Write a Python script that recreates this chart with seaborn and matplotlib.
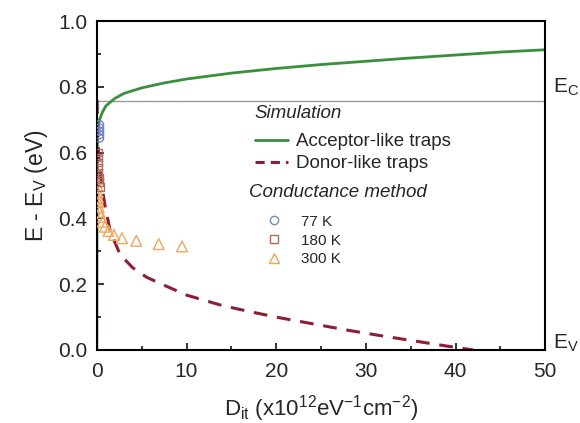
import matplotlib
matplotlib.use("Agg")
import matplotlib.pyplot as plt
import seaborn as sns
from matplotlib.lines import Line2D

# ---- data ----
acc_x = [0, 0.01, 0.05, 0.15, 0.3, 0.6, 1, 2, 3, 5, 7.5, 10, 15, 20, 25, 30, 35, 40, 45, 50]
acc_y = [0, 0.45, 0.62, 0.675, 0.70, 0.722, 0.742, 0.765, 0.78, 0.797, 0.812, 0.824, 0.842,
         0.856, 0.868, 0.878, 0.888, 0.897, 0.906, 0.913]
don_x = [0.02, 0.1, 0.25, 0.55, 0.9, 1.5, 2.6, 4, 5.5, 7, 10, 14, 17, 20, 24, 28, 32, 36, 39, 42]
don_y = [0.76, 0.65, 0.57, 0.50, 0.44, 0.36, 0.29, 0.25, 0.222, 0.203, 0.167, 0.135, 0.117,
         0.10, 0.08, 0.06, 0.042, 0.025, 0.012, 0.0]
k77_x = [0.3, 0.3, 0.3, 0.3, 0.3]
k77_y = [0.645, 0.655, 0.665, 0.675, 0.685]
k180_x = [0.2, 0.2, 0.2, 0.2, 0.2, 0.25, 0.3, 0.35]
k180_y = [0.60, 0.585, 0.57, 0.555, 0.54, 0.525, 0.51, 0.495]
k300_x = [0.05, 0.08, 0.1, 0.15, 0.2, 0.3, 0.45, 0.65, 0.9, 1.3, 1.9, 2.8, 4.4, 6.9, 9.5]
k300_y = [0.50, 0.48, 0.465, 0.45, 0.435, 0.42, 0.405, 0.39, 0.375, 0.362, 0.35, 0.34,
          0.332, 0.322, 0.315]
ec_level = 0.757
ev_level = 0.0
x_ticks = [0, 10, 20, 30, 40, 50]
y_ticks = [0.0, 0.2, 0.4, 0.6, 0.8, 1.0]
y_ticklabels = ["0.0", "0.2", "0.4", "0.6", "0.8", "1.0"]

sns.set_style("ticks")
plt.rcParams['font.family'] = ['Liberation Sans', 'DejaVu Sans']
plt.rcParams['mathtext.fontset'] = 'custom'
plt.rcParams['mathtext.rm'] = 'Liberation Sans'
plt.rcParams['mathtext.it'] = 'Liberation Sans:italic'

fig = plt.figure(figsize=(5.8, 4.23), dpi=100)
ax = fig.add_axes([0.167, 0.1726, 0.773, 0.7774])

green = "#3a8f3e"
dred = "#8e1d35"
c77 = "#6f86c8"
c180 = "#b36a5e"
c300 = "#f2a55a"

ax.axhline(ec_level, color="#9a9a9a", lw=1.0, zorder=1)

sns.lineplot(x=acc_x, y=acc_y, ax=ax, color=green, lw=2, sort=False, estimator=None)
sns.lineplot(x=don_x, y=don_y, ax=ax, color=dred, lw=2.2, sort=False, estimator=None)
ax.lines[-1].set_linestyle((0, (4.5, 3.2)))

sns.scatterplot(x=k300_x, y=k300_y, ax=ax, marker="^", s=60, facecolor="none",
                edgecolor=c300, linewidth=1.0, zorder=3)
sns.scatterplot(x=k180_x, y=k180_y, ax=ax, marker="s", s=30, facecolor="none",
                edgecolor=c180, linewidth=1.0, zorder=3)
sns.scatterplot(x=k77_x, y=k77_y, ax=ax, marker="o", s=35, facecolor="none",
                edgecolor=c77, linewidth=1.0, zorder=3)

ax.set_xlim(0, 50)
ax.set_ylim(0, 1.0)
ax.set_xticks(x_ticks)
ax.set_xticks([5, 15, 25, 35, 45], minor=True)
ax.set_yticks(y_ticks)
ax.set_yticks([0.1, 0.3, 0.5, 0.7, 0.9], minor=True)
ax.set_yticklabels(y_ticklabels)
ax.tick_params(which="both", direction="in", top=False, right=False, width=1.3, labelsize=15)
ax.tick_params(which="major", length=5)
ax.tick_params(which="minor", length=3)
ax.tick_params(axis="y", which="major", pad=7)
ax.tick_params(axis="x", which="major", pad=9)
for sp in ax.spines.values():
    sp.set_linewidth(1.5)
    sp.set_color("black")

ax.set_xlabel(r"D$_{\rm it}$ (x10$^{12}$eV$^{-1}$cm$^{-2}$)", fontsize=16, labelpad=8)
ax.set_ylabel(r"E - E$_{\rm V}$ (eV)", fontsize=16.5, labelpad=6)

ax.text(1.018, ec_level + 0.025, r"E$_{\rm C}$", transform=ax.get_yaxis_transform(), fontsize=15,
        va="baseline", ha="left")
ax.text(1.018, ev_level + 0.003, r"E$_{\rm V}$", transform=ax.get_yaxis_transform(), fontsize=15,
        va="baseline", ha="left")

h1 = [Line2D([], [], color=green, lw=2), Line2D([], [], color=dred, lw=2.2, linestyle=(0, (3, 2)))]
leg1 = ax.legend(h1, ["Acceptor-like traps", "Donor-like traps"], title="Simulation",
                 loc="upper left", bbox_to_anchor=(0.352, 0.745), frameon=False, fontsize=13.5,
                 title_fontproperties={"style": "italic", "size": 13.5}, alignment="left",
                 handlelength=1.8, handletextpad=0.4, labelspacing=0.26, borderpad=0,
                 borderaxespad=0)
leg1._legend_box.sep = 8
ax.add_artist(leg1)

h2 = [Line2D([], [], marker="o", ls="none", mfc="none", mec=c77, ms=6),
      Line2D([], [], marker="s", ls="none", mfc="none", mec=c180, ms=5.5),
      Line2D([], [], marker="^", ls="none", mfc="none", mec=c300, ms=6.5)]
leg2 = ax.legend(h2, ["77 K", "180 K", "300 K"], title="Conductance method",
                 loc="upper left", bbox_to_anchor=(0.34, 0.505), frameon=False, fontsize=11,
                 title_fontproperties={"style": "italic", "size": 13.5}, alignment="left",
                 handlelength=3.2, handletextpad=0.2, labelspacing=0.31, borderpad=0,
                 borderaxespad=0)
leg2._legend_box.sep = 10

fig.savefig("out.png", dpi=100, facecolor="white")
